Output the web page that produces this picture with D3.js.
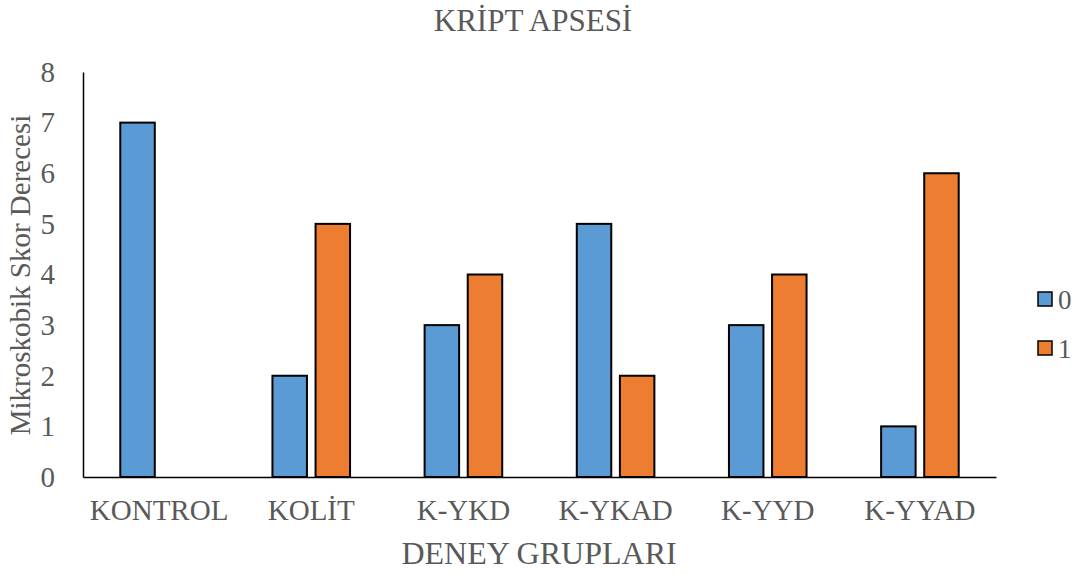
<!DOCTYPE html>
<meta charset="utf-8">
<style>
body { margin: 0; background: #fff; }
text { font-family: "Liberation Serif", "Times New Roman", serif; fill: #595959; }
</style>
<svg width="1086" height="574"></svg>
<script src="https://d3js.org/d3.v7.min.js"></script>
<script>
// values
var groups = ["KONTROL", "KOLİT", "K-YKD", "K-YKAD", "K-YYD", "K-YYAD"];
var series = ["0", "1"];
var values0 = [7, 2, 3, 5, 3, 1];
var values1 = [0, 5, 4, 2, 4, 6];
var yTicks = [0, 1, 2, 3, 4, 5, 6, 7, 8];
var colors = ["#5B9BD5", "#ED7D31"];

var svg = d3.select("svg"),
    margin = {top: 72, right: 90, bottom: 97, left: 83},
    width = 996 - margin.left,
    height = 477 - margin.top,
    g = svg.append("g").attr("transform", "translate(" + margin.left + "," + margin.top + ")");

var rows = groups.map(function(k, i) { return {group: k, v: [values0[i], values1[i]]}; });

var x0 = d3.scaleBand().domain(groups).range([0, width]).paddingInner(0.49).paddingOuter(0.245);
var x1 = d3.scaleBand().domain(series).range([0, x0.bandwidth()]).paddingInner(0.2);
var y = d3.scaleLinear().domain([0, 8]).range([height, 0]);

// bars
var grp = g.selectAll(".grp").data(rows).enter().append("g")
    .attr("transform", function(d) { return "translate(" + x0(d.group) + ",0)"; });
grp.selectAll("rect")
    .data(function(d) { return d.v.map(function(v, i) { return {s: series[i], v: v, i: i}; }).filter(function(b) { return b.v > 0; }); })
    .enter().append("rect")
    .attr("x", function(d) { return x1(d.s); })
    .attr("y", function(d) { return y(d.v); })
    .attr("width", x1.bandwidth())
    .attr("height", function(d) { return height - y(d.v); })
    .attr("fill", function(d) { return colors[d.i]; })
    .attr("stroke", "#000")
    .attr("stroke-width", 2);

// axes
var yAxis = g.append("g").call(d3.axisLeft(y).tickValues(yTicks).tickSize(0).tickPadding(28));
yAxis.select(".domain").attr("stroke", "#000").attr("stroke-width", 1.5);
yAxis.selectAll("text").attr("font-size", 29).attr("fill", "#595959").attr("font-family", "Liberation Serif");

var xAxis = g.append("g").attr("transform", "translate(0," + height + ")")
    .call(d3.axisBottom(x0).tickSize(0).tickPadding(22).tickSizeOuter(0));
xAxis.select(".domain").attr("stroke", "#000").attr("stroke-width", 1.5);
xAxis.selectAll("text").attr("font-size", 29).attr("fill", "#595959").attr("font-family", "Liberation Serif")
    .attr("dy", "0.71em");

// title and axis labels
svg.append("text").attr("x", 533).attr("y", 31).attr("text-anchor", "middle")
    .attr("font-size", 31).text("KRİPT APSESİ");
svg.append("text").attr("x", 539).attr("y", 564).attr("text-anchor", "middle")
    .attr("font-size", 32).text("DENEY GRUPLARI");
svg.append("text").attr("transform", "translate(30,275) rotate(-90)").attr("text-anchor", "middle")
    .attr("font-size", 29).text("Mikroskobik Skor Derecesi");

// legend
var leg = svg.selectAll(".leg").data(series).enter().append("g")
    .attr("transform", function(d, i) { return "translate(1038," + (292 + i * 49) + ")"; });
leg.append("rect").attr("width", 14).attr("height", 14)
    .attr("fill", function(d, i) { return colors[i]; })
    .attr("stroke", "#000").attr("stroke-width", 1.5);
leg.append("text").attr("x", 20).attr("y", 17).attr("font-size", 27).text(function(d) { return d; });
</script>
